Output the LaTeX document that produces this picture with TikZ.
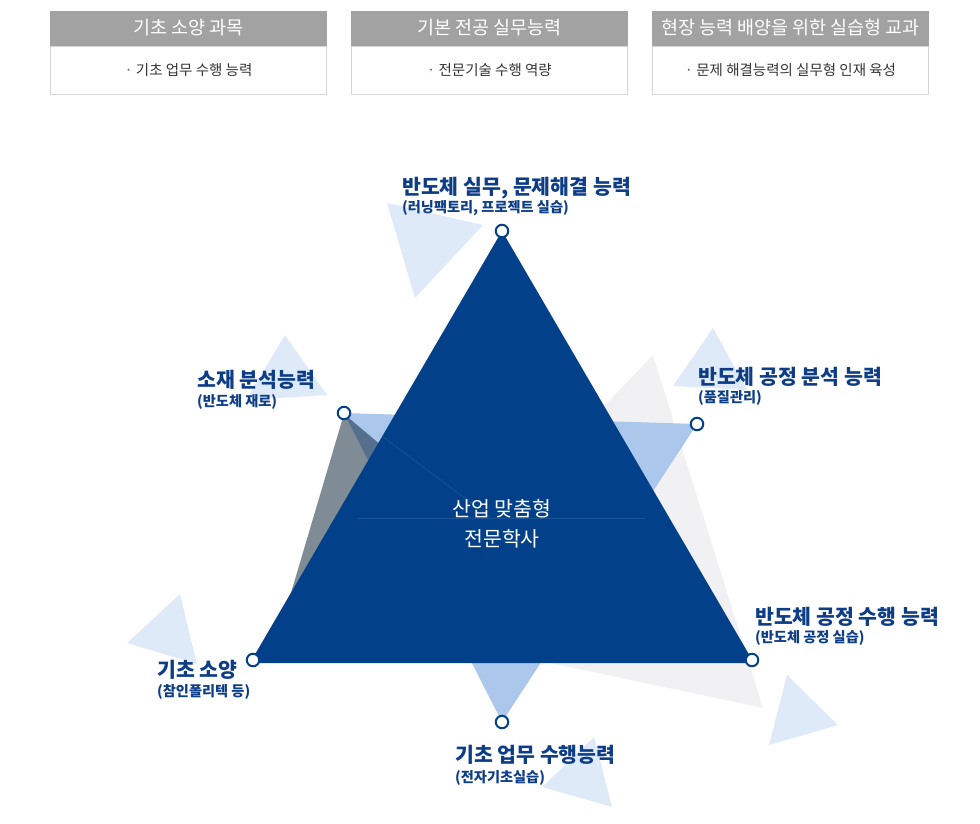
\documentclass[tikz,border=0pt]{standalone}
\usepackage{fontspec}
\setmainfont{Noto Sans CJK KR}
\usetikzlibrary{calc,positioning}

\definecolor{mainblue}{HTML}{02418A}
\definecolor{labelblue}{HTML}{0D3D86}
\definecolor{paleblue}{HTML}{DFEAF8}
\definecolor{lightblue}{HTML}{ABC8EC}
\definecolor{lightgray}{HTML}{F1F1F3}
\definecolor{navy}{HTML}{001A2E}
\definecolor{headgray}{HTML}{A2A2A2}
\definecolor{boxline}{HTML}{D4D4D4}
\definecolor{bodytext}{HTML}{333333}
\definecolor{dotblue}{HTML}{3A64B0}

\tikzset{
  vtx/.style={circle,draw=mainblue,fill=white,line width=2pt,minimum size=12.5pt,inner sep=0pt},
  ttl/.style={anchor=base west,inner sep=0pt,text=labelblue,font=\fontsize{20.5}{22}\selectfont\bfseries},
  sub/.style={anchor=base west,inner sep=0pt,text=labelblue,font=\fontsize{14.2}{16}\selectfont\bfseries},
  core/.style={anchor=base,inner sep=0pt,text=white,font=\fontsize{20.5}{22}\selectfont},
}

\begin{document}
\begin{tikzpicture}[x=1pt,y=-1pt]
		\useasboundingbox (0,0) rectangle (980,823);
		% top boxes
		\foreach \x/\hd/\bd [count=\i] in {50/기초 소양 과목/기초 업무 수행 능력,351/기본 전공 실무능력/전문기술 수행 역량,652/현장 능력 배양을 위한 실습형 교과/문제 해결능력의 실무형 인재 육성} {
			\fill[headgray] (\x,11) rectangle ++(277,35);
			\draw[boxline] (\x+0.5,46) rectangle ++(276,48.5);
			\node[anchor=base,inner sep=0pt,text=white,font=\fontsize{18.5}{20}\selectfont] (hd\i) at (\x+138.5,34.5) {\hd};
			\node[anchor=base,inner sep=0pt,text=bodytext,font=\fontsize{14.5}{16}\selectfont] (bd\i) at (\x+138.5,75) {{\color{dotblue}·} \bd};
		};
		% pale triangles
		\foreach \ax/\ay/\bx/\by/\cx/\cy in {387/203/483/225/415/298,285/335/327/395/246/400,713/328/747/390/673/386,180/594/127/643/197/664,787/675/838/725/769/745,594/737/542/787/612/807} {
			\fill[paleblue] (\ax,\ay) -- (\bx,\by) -- (\cx,\cy) -- cycle;
		};
		\fill[lightgray] (653,355) -- (763,708) -- (390,629) -- cycle;
		\fill[lightblue] (344,413) -- (697,424) -- (502,722) -- cycle;
		\fill[navy,opacity=0.5] (344,414) -- (470,520) -- (280,630) -- cycle;
		% main triangle
		\fill[mainblue] (502,231) coordinate (t) -- (250,663) coordinate (l) -- (754,663) coordinate (r) -- cycle;
		\draw[mainblue!90!white,line width=0.7pt] (382,436) -- (490,517);
		\draw[mainblue!90!white,line width=0.7pt] (358,518) -- (645,518);
		\node[core] (core1) at (502,516) {산업 맞춤형};
		\node[core] (core2) at (502,546) {전문학사};
		% vertices
		\foreach \n/\x/\y in {top/502/231,mat/344/413,qc/697/424,base/253/660,proc/752/660,work/502/722} {
			\node[vtx] (\n) at (\x,\y) {};
		};
		% labels
		\node[ttl] (topT) at (402,194) {반도체 실무, 문제해결 능력};
		\node[sub] (topS) at (402,212) {(러닝팩토리, 프로젝트 실습)};
		\node[ttl] (matT) at (197,387) {소재 분석능력};
		\node[sub] (matS) at (197,406) {(반도체 재로)};
		\node[ttl] (qcT) at (698,384) {반도체 공정 분석 능력};
		\node[sub] (qcS) at (698,402) {(품질관리)};
		\node[ttl] (procT) at (755,624) {반도체 공정 수행 능력};
		\node[sub] (procS) at (755,642) {(반도체 공정 실습)};
		\node[ttl] (baseT) at (157,677) {기초 소양};
		\node[sub] (baseS) at (157,696) {(참인폴리텍 등)};
		\node[ttl] (workT) at (455,762) {기초 업무 수행능력};
		\node[sub] (workS) at (455,782) {(전자기초실습)};
	\end{tikzpicture}
\end{document}
